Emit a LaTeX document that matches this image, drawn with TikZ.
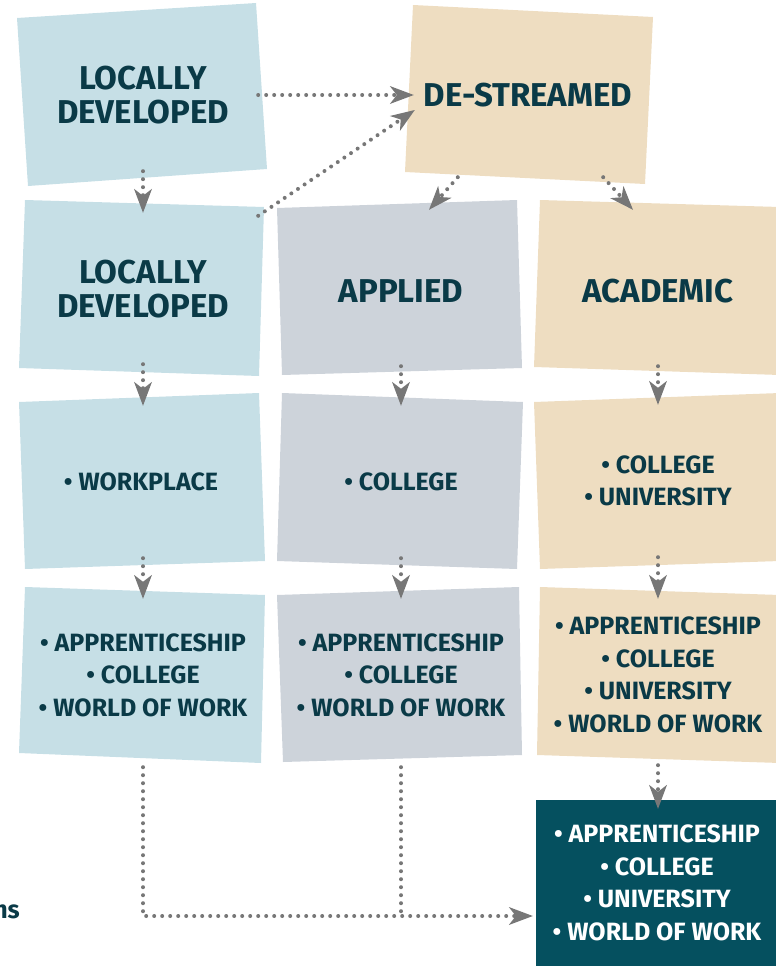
\documentclass[tikz,border=0pt]{standalone}
\usepackage{fontspec}
\setmainfont{Fira Sans}
\usetikzlibrary{arrows.meta}

\definecolor{ldblue}{HTML}{C6DFE6}
\definecolor{apgray}{HTML}{CDD3DA}
\definecolor{actan}{HTML}{EEDDC1}
\definecolor{allteal}{HTML}{05505F}
\definecolor{inkteal}{HTML}{0A3A47}
\definecolor{dotgray}{HTML}{777777}

\tikzset{
  stream/.style={minimum width=240pt, minimum height=168pt, inner sep=0pt,
    align=center, text=inkteal, font=\bfseries\fontsize{33}{34}\selectfont},
  route/.style={stream, font=\bfseries\fontsize{25}{32.5}\selectfont},
  flow/.style={dotgray, line width=4pt, line cap=round,
    dash pattern=on 0pt off 8pt,
    -{Stealth[length=24pt, width=18pt, inset=7pt, line width=0pt, sep=0pt]}},
  flowline/.style={dotgray, line width=4pt, line cap=round,
    dash pattern=on 0pt off 8pt}
}

\begin{document}
\begin{tikzpicture}[x=1pt, y=-1pt]
		\useasboundingbox (0,0) rectangle (776,966);
		% boxes
		\fill[ldblue] (17,18) -- (256,3) -- (267,169) -- (28,186) -- cycle;
		\fill[actan] (413,5) -- (653,17) -- (645,184) -- (405,172) -- cycle;
		\fill[ldblue] (25,200) -- (264,207) -- (259,376) -- (19,368) -- cycle;
		\fill[apgray] (277,208) -- (517,200) -- (522,368) -- (282,375) -- cycle;
		\fill[actan] (540,200) -- (780,207) -- (780,375) -- (534,367) -- cycle;
		\fill[ldblue] (19,402) -- (259,393) -- (265,561) -- (25,569) -- cycle;
		\fill[apgray] (282,393) -- (523,402) -- (517,569) -- (277,561) -- cycle;
		\fill[actan] (534,402) -- (780,393) -- (780,561) -- (540,569) -- cycle;
		\fill[ldblue] (25,587) -- (265,595) -- (261,763) -- (19,753) -- cycle;
		\fill[apgray] (277,595) -- (519,587) -- (522,755) -- (283,762) -- cycle;
		\fill[actan] (540,587) -- (780,595) -- (780,763) -- (537,755) -- cycle;
		\fill[allteal] (536,800) rectangle (780,970);

		% texts
		\node[stream] (locA) at (143,95) {LOCALLY\\DEVELOPED};
		\node[stream] (destr) at (528,95) {DE-STREAMED};
		\node[stream] (locB) at (143,289) {LOCALLY\\DEVELOPED};
		\node[stream] (appl) at (401,291) {APPLIED};
		\node[stream] (acad) at (658,291) {ACADEMIC};
		\node[route] (work) at (141,482) {• WORKPLACE};
		\node[route] (collA) at (401,482) {• COLLEGE};
		\node[route] (collB) at (658,481) {• COLLEGE\\• UNIVERSITY};
		\node[route] (pathA) at (143,675) {• APPRENTICESHIP\\• COLLEGE\\• WORLD OF WORK};
		\node[route] (pathB) at (401,675) {• APPRENTICESHIP\\• COLLEGE\\• WORLD OF WORK};
		\node[route] (pathC) at (658,675) {• APPRENTICESHIP\\• COLLEGE\\• UNIVERSITY\\• WORLD OF WORK};
		\node[route, text=white, minimum width=240pt] (allp) at (657,883) {• APPRENTICESHIP\\• COLLEGE\\• UNIVERSITY\\• WORLD OF WORK};
		\node[anchor=base east, inner sep=0pt, text=inkteal, font=\bfseries\fontsize{25}{28}\selectfont] (cut) at (20,918) {ns};

		% arrows
		\draw[flow] ([xshift=-5pt]locA.east) -- ([xshift=6pt]destr.west);
		\draw[flow] ([xshift=-5pt, yshift=-11pt]locB.north east) -- ([xshift=7pt, yshift=-15pt]destr.west);
		\draw[flow] ([xshift=50pt, yshift=2pt]destr.south west) -- ([xshift=28pt, yshift=-3pt]appl.north);
		\draw[flow] ([xshift=-45pt, yshift=2pt]destr.south east) -- ([xshift=-25pt, yshift=-3pt]acad.north);
		\draw[flow] ([yshift=8pt]locA.south) -- ([yshift=-8pt]locB.north);
		\draw[flow] ([yshift=9pt]locB.south) -- ([xshift=2pt, yshift=-8pt]work.north);
		\draw[flow] ([yshift=9pt]appl.south) -- ([yshift=-8pt]collA.north);
		\draw[flow] ([yshift=9pt]acad.south) -- ([yshift=-8pt]collB.north);
		\draw[flow] ([xshift=2pt, yshift=8pt]work.south) -- ([yshift=-8pt]pathA.north);
		\draw[flow] ([yshift=8pt]collA.south) -- ([yshift=-8pt]pathB.north);
		\draw[flow] ([yshift=8pt]collB.south) -- ([yshift=-8pt]pathC.north);
		\draw[flow] ([yshift=-6pt]pathC.south) -- ([xshift=1pt, yshift=-10pt]allp.north);
		\draw[flow] ([yshift=-8pt]pathA.south) |- ([xshift=-4pt, yshift=-33pt]allp.west);
		\coordinate (join) at (401,916);
		\draw[flowline] ([yshift=-8pt]pathB.south) -- (join);
	\end{tikzpicture}
\end{document}
